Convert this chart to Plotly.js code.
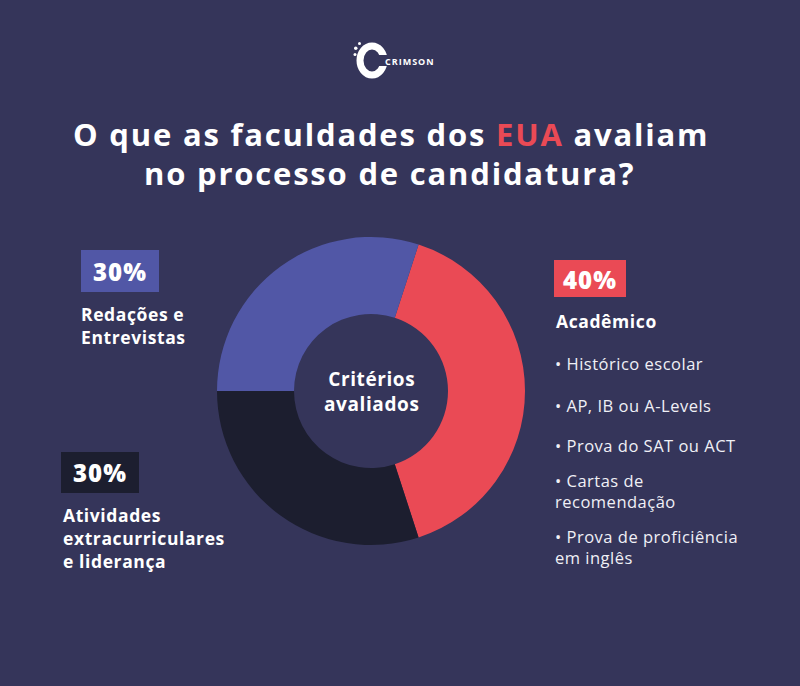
<!DOCTYPE html>
<html><head><meta charset="utf-8">
<script src="https://cdn.plot.ly/plotly-3.0.1.min.js"></script>
<style>html,body{margin:0;padding:0;background:#35355a;}#c{width:800px;height:686px;}</style>
</head><body><div id="c"></div>
<script>
const categories = ["Acadêmico", "Atividades extracurriculares e liderança", "Redações e Entrevistas"];
const values = [40, 30, 30];
const pctLabels = ["40%", "30%", "30%"];
const academicItems = ["• Histórico escolar", "• AP, IB ou A-Levels", "• Prova do SAT ou ACT", "• Cartas de<br>recomendação", "• Prova de proficiência<br>em inglês"];
const colors = ["#ea4a55", "#1c1e2f", "#5157a6"];

const W = 800, H = 686;
const fx = x => x / W, fy = y => 1 - y / H;
const FONT = "Open Sans, Lato, sans-serif";
const white = "#ffffff";
const bg = "#35355a";

const cx = 371, cy = 391, R = 154;

// wrap each line in a letter-spaced span
function ls(text, sp) {
  return text.split("<br>").map(l => "<span style='letter-spacing:" + sp + "px'>" + l + "</span>").join("<br>");
}

const data = [{
  type: "pie",
  values: values,
  labels: categories,
  hole: 0.5,
  sort: false,
  direction: "clockwise",
  rotation: 18,
  marker: {colors: colors, line: {width: 0}},
  textinfo: "none",
  hoverinfo: "label+percent",
  showlegend: false,
  domain: {x: [fx(cx - R), fx(cx + R)], y: [fy(cy + R), fy(cy - R)]}
}];

function ann(text, x, y, size, weight, opts) {
  return Object.assign({
    text: text, x: fx(x), y: fy(y), xref: "paper", yref: "paper",
    xanchor: "left", yanchor: "middle", showarrow: false, align: "left",
    font: {family: FONT, size: size, color: white, weight: weight}
  }, opts || {});
}

const title1 = "<span style='letter-spacing:1.8px'>O que as faculdades dos </span>" +
  "<span style='color:#ea4a55;letter-spacing:1.8px'>EUA</span>" +
  "<span style='letter-spacing:1.8px'> avaliam</span>";

const annotations = [
  ann(title1, 391, 134, 31, 700, {xanchor: "center", align: "center"}),
  ann(ls("no processo de candidatura?", 1.8), 389, 173, 31, 700, {xanchor: "center", align: "center"}),
  ann(ls("CRIMSON", 1), 383, 62, 9, 700),
  ann(ls("Critérios<br>avaliados", 0.6), cx, 391, 19, 700, {xanchor: "center", align: "center"}),
  // blue
  ann(ls(pctLabels[2], 1), 120, 271, 24, 800, {xanchor: "center"}),
  ann(ls("Redações e<br>Entrevistas", 0.6), 79, 325, 17.5, 700),
  // dark
  ann(ls(pctLabels[1], 1), 100, 473, 24, 800, {xanchor: "center"}),
  ann(ls("Atividades<br>extracurriculares<br>e liderança", 0.6), 61, 538, 17.5, 700),
  // red
  ann(ls(pctLabels[0], 1), 590, 279, 24, 800, {xanchor: "center"}),
  ann(ls(categories[0], 0.6), 554, 321, 17.5, 700)
];
const itemY = [363, 405, 445, 491, 547];
academicItems.forEach((t, i) => annotations.push(ann(ls(t, 0.5), 553, itemY[i], 16.5, 400, {font: {family: FONT, size: 16.5, color: "#f0f0f6", weight: 400}})));

const shapes = [
  {type: "rect", xref: "paper", yref: "paper", x0: fx(81), x1: fx(159), y0: fy(292), y1: fy(250), fillcolor: colors[2], line: {width: 0}, layer: "below"},
  {type: "rect", xref: "paper", yref: "paper", x0: fx(61), x1: fx(139), y0: fy(493), y1: fy(452), fillcolor: colors[1], line: {width: 0}, layer: "below"},
  {type: "rect", xref: "paper", yref: "paper", x0: fx(554), x1: fx(626), y0: fy(297), y1: fy(260), fillcolor: colors[0], line: {width: 0}, layer: "below"},
  // logo C arc
  {type: "circle", xref: "paper", yref: "paper", x0: fx(360), x1: fx(384), y0: fy(75), y1: fy(46), line: {color: white, width: 7}, fillcolor: "rgba(0,0,0,0)"},
  {type: "rect", xref: "paper", yref: "paper", x0: fx(377), x1: fx(391), y0: fy(66), y1: fy(55), fillcolor: bg, line: {width: 0}},
  {type: "circle", xref: "paper", yref: "paper", x0: fx(354), x1: fx(357.5), y0: fy(50), y1: fy(46.5), fillcolor: white, line: {width: 0}},
  {type: "circle", xref: "paper", yref: "paper", x0: fx(358), x1: fx(361), y0: fy(45), y1: fy(42), fillcolor: white, line: {width: 0}},
  {type: "circle", xref: "paper", yref: "paper", x0: fx(353.5), x1: fx(356.5), y0: fy(56), y1: fy(53), fillcolor: white, line: {width: 0}}
];

const layout = {
  width: W, height: H,
  margin: {l: 0, r: 0, t: 0, b: 0},
  paper_bgcolor: bg,
  plot_bgcolor: bg,
  annotations: annotations,
  shapes: shapes,
  showlegend: false
};
Plotly.newPlot("c", data, layout, {displayModeBar: false, staticPlot: true});
</script></body></html>
